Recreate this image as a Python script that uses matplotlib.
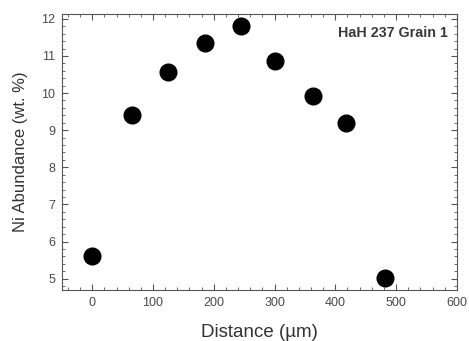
import matplotlib.pyplot as plt
from matplotlib.ticker import MultipleLocator

# 데이터
distance = [0, 65, 125, 185, 244, 301, 364, 417, 481]
ni_wt = [5.62, 9.42, 10.56, 11.34, 11.80, 10.87, 9.93, 9.19, 5.03]

plt.rcParams['font.family'] = ['Liberation Sans', 'DejaVu Sans']

fig = plt.figure(figsize=(4.69, 3.41), dpi=100)
ax = fig.add_axes([0.132, 0.150, 0.842, 0.809])

ax.plot(distance, ni_wt, 'o', color='black', markersize=12)

ax.set_xlim(-50, 600)
ax.set_ylim(4.7, 12.13)
ax.xaxis.set_major_locator(MultipleLocator(100))
ax.xaxis.set_minor_locator(MultipleLocator(20))
ax.yaxis.set_major_locator(MultipleLocator(1))
ax.yaxis.set_minor_locator(MultipleLocator(0.2))

ax.tick_params(which='both', direction='in', top=True, right=True,
               colors='#555555', labelcolor='#4a4a4a')
ax.tick_params(which='major', length=4, labelsize=9, pad=5)
ax.tick_params(which='minor', length=2)
for s in ax.spines.values():
    s.set_color('#555555')

ax.set_xlabel("Distance (µm)", fontsize=13.5, color='#333333', labelpad=11)
ax.set_ylabel("Ni Abundance (wt. %)", fontsize=12, color='#333333', labelpad=9)

ax.text(0.977, 0.955, "HaH 237 Grain 1", transform=ax.transAxes,
        ha='right', va='top', fontsize=10.3, fontweight='bold', color='#3a3a3a')

fig.savefig("out.png", dpi=100)
